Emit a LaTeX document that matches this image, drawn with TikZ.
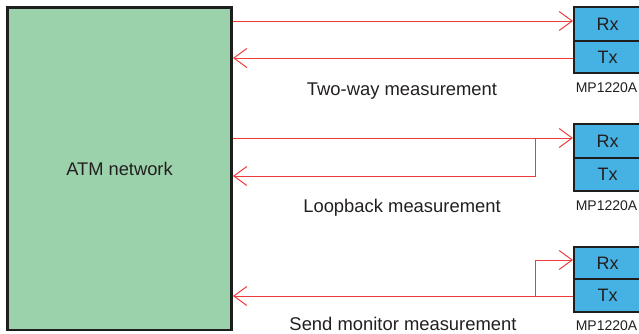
\documentclass[tikz,border=0pt]{standalone}
\usepackage{fontspec}
\setmainfont{Liberation Sans}
\usetikzlibrary{arrows.meta}
\definecolor{netgreen}{RGB}{155,210,171}
\definecolor{devblue}{RGB}{70,178,227}
\definecolor{sigred}{RGB}{238,60,60}
\definecolor{ink}{RGB}{35,31,32}
\definecolor{edge}{RGB}{30,30,30}
\begin{document}
\begin{tikzpicture}[x=1pt,y=-1pt,
  netbox/.style={draw=edge,line width=2.5pt,fill=netgreen,minimum width=224.4pt,minimum height=322.7pt,inner sep=0pt,text=ink,font=\fontsize{18.3}{20}\selectfont},
  devbox/.style={draw=edge,line width=2pt,fill=devblue,minimum width=67pt,inner sep=0pt,text=ink,font=\fontsize{18}{20}\selectfont},
  caption/.style={text=ink,font=\fontsize{18.4}{20}\selectfont,inner sep=0pt,anchor=base},
  model/.style={text=ink,font=\fontsize{14}{16}\selectfont,inner sep=0pt,anchor=base},
  sig/.style={draw=sigred,line width=1pt},
  sigarrow/.style={sig,-{Straight Barb[length=13pt,width=19pt,line width=1pt]}}]
\useasboundingbox (0,0) rectangle (639,333);
\node[netbox] (atm) at (119.5,168.6) {ATM network};
% devices
\node[devbox,minimum height=34pt] (rx1) at (607.5,24) {Rx};
\node[devbox,minimum height=32pt] (tx1) at (607.5,57) {Tx};
\node[devbox,minimum height=34pt] (rx2) at (607.5,141) {Rx};
\node[devbox,minimum height=33pt] (tx2) at (607.5,174.5) {Tx};
\node[devbox,minimum height=32pt] (rx3) at (607.5,263) {Rx};
\node[devbox,minimum height=33pt] (tx3) at (607.5,295.5) {Tx};
\node[model] (m1) at (606.5,92) {MP1220A};
\node[model] (m2) at (606.5,210) {MP1220A};
\node[model] (m3) at (606.5,330) {MP1220A};
\node[caption] (c1) at (402,95) {Two-way measurement};
\node[caption] (c2) at (402,212.5) {Loopback measurement};
\node[caption] (c3) at (403,330) {Send monitor measurement};
% loop junctions
\coordinate (j2a) at (535,138);
\coordinate (j2b) at (535,176);
\coordinate (j3a) at (535,260);
\coordinate (j3b) at (535,296);
% two-way
\draw[sigarrow] (atm.east |- 0,21) -- (rx1.west |- 0,21);
\draw[sigarrow] (tx1.west |- 0,58) -- (atm.east |- 0,58);
% loopback
\draw[sigarrow] (atm.east |- j2a) -- (rx2.west |- j2a);
\draw[sigarrow] (j2a) -- (j2b) -- (atm.east |- j2b);
% send monitor
\draw[sigarrow] (tx3.west |- j3b) -- (atm.east |- j3b);
\draw[sigarrow] (j3b) -- (j3a) -- (rx3.west |- j3a);
\end{tikzpicture}
\end{document}
